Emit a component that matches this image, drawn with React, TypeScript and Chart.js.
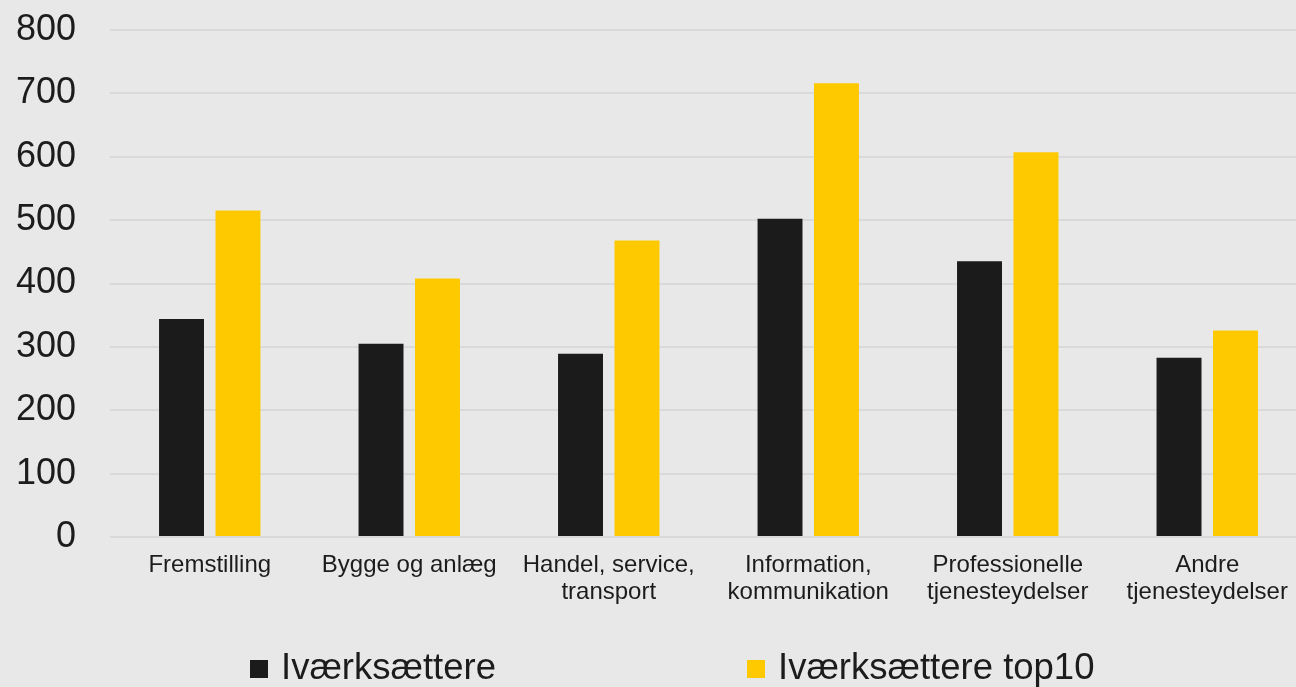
import React, { useEffect, useRef } from "react";
import { Chart, registerables } from "chart.js";

Chart.register(...registerables);

const categories: string[][] = [
  ["Fremstilling"],
  ["Bygge og anlæg"],
  ["Handel, service,", "transport"],
  ["Information,", "kommunikation"],
  ["Professionelle", "tjenesteydelser"],
  ["Andre", "tjenesteydelser"],
];
const seriesNames = ["Iværksættere", "Iværksættere top10"];
const ivaerksaettere = [344, 305, 289, 502, 435, 283];
const ivaerksaettereTop10 = [515, 408, 468, 716, 607, 326];
const yMin = 0;
const yMax = 800;
const yStep = 100;

const BG = "#e8e8e8";
const TEXT = "#1c1c1c";
const COLORS = ["#1b1b1b", "#ffc900"];

const legendPlugin = {
  id: "customLegend",
  afterDraw(chart: any) {
    const ctx = chart.ctx;
    const starts = [250, 747];
    const boxSize = 18;
    const cy = 669;
    ctx.save();
    ctx.font = '36.5px "Liberation Sans", Arial, sans-serif';
    ctx.textBaseline = "middle";
    ctx.textAlign = "left";
    chart.data.datasets.forEach((ds: any, i: number) => {
      const x = starts[i];
      ctx.fillStyle = ds.backgroundColor;
      ctx.fillRect(x, cy - boxSize / 2, boxSize, boxSize);
      ctx.fillStyle = TEXT;
      ctx.fillText(ds.label, x + boxSize + 13, cy);
    });
    ctx.restore();
  },
};

export default function App() {
  const canvasRef = useRef<HTMLCanvasElement | null>(null);

  useEffect(() => {
    const canvas = canvasRef.current;
    if (!canvas) return;
    const chart = new Chart(canvas, {
      type: "bar",
      data: {
        labels: categories,
        datasets: [
          {
            label: seriesNames[0],
            data: ivaerksaettere,
            backgroundColor: COLORS[0],
            borderWidth: 0,
            categoryPercentage: 0.566,
            barPercentage: 0.796,
          },
          {
            label: seriesNames[1],
            data: ivaerksaettereTop10,
            backgroundColor: COLORS[1],
            borderWidth: 0,
            categoryPercentage: 0.566,
            barPercentage: 0.796,
          },
        ],
      },
      options: {
        responsive: false,
        maintainAspectRatio: false,
        animation: false,
        devicePixelRatio: 1,
        layout: { padding: { top: 30, bottom: 60, left: 0, right: 0 } },
        plugins: {
          legend: { display: false },
          tooltip: { enabled: false },
        },
        scales: {
          x: {
            grid: { display: false, drawTicks: false },
            border: { display: false },
            ticks: {
              color: TEXT,
              padding: 15,
              maxRotation: 0,
              autoSkip: false,
              font: { family: '"Liberation Sans", Arial, sans-serif', size: 24, lineHeight: 1.125 },
            },
            afterFit: (axis: any) => {
              axis.height = 90;
            },
          },
          y: {
            min: yMin,
            max: yMax,
            grid: { color: "#d9d9d9", lineWidth: 2, drawTicks: false },
            border: { display: false },
            ticks: {
              stepSize: yStep,
              color: TEXT,
              padding: 34,
              font: { family: '"Liberation Sans", Arial, sans-serif', size: 36 },
            },
            afterFit: (axis: any) => {
              axis.width = 110;
              axis.paddingTop = 0;
              axis.paddingBottom = 0;
            },
          },
        },
      },
      plugins: [legendPlugin],
    });
    return () => chart.destroy();
  }, []);

  return (
    <div
      style={{
        position: "fixed",
        left: 0,
        top: 0,
        width: 1296,
        height: 687,
        overflow: "hidden",
        background: BG,
      }}
    >
      <canvas ref={canvasRef} width={1307} height={687} style={{ display: "block", width: 1307, height: 687 }} />
    </div>
  );
}
